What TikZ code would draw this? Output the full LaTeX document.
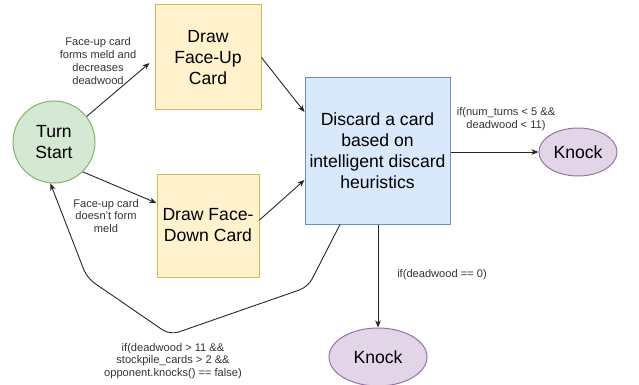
\documentclass[tikz,border=0pt]{standalone}
\usepackage{fontspec}
\setmainfont{Liberation Sans}
\usetikzlibrary{arrows.meta,shapes.geometric}
\definecolor{gfill}{HTML}{D5E8D4}\definecolor{gline}{HTML}{82B366}
\definecolor{yfill}{HTML}{FFF2CC}\definecolor{yline}{HTML}{D6B656}
\definecolor{bfill}{HTML}{DAE8FC}\definecolor{bline}{HTML}{6C8EBF}
\definecolor{pfill}{HTML}{E1D5E7}\definecolor{pline}{HTML}{9673A6}
\definecolor{lbl}{HTML}{333333}
\tikzset{
  big/.style={font=\fontsize{17.6}{21}\selectfont, align=center, inner sep=0pt},
  ybox/.style={big, draw=yline, fill=yfill, line width=1pt},
  lab/.style={font=\fontsize{11.1}{12.7}\selectfont, align=center, text=lbl, inner sep=0pt},
  conn/.style={draw=black!85, line width=0.9pt, -{Stealth[length=7pt,width=5.5pt,inset=2pt]}},
}
\begin{document}
\begin{tikzpicture}[x=1pt,y=-1pt]
\useasboundingbox (0,0) rectangle (639,385);
\node[big, circle, draw=gline, fill=gfill, line width=1pt, minimum size=82pt] (ts) at (54,142) {Turn\\Start};
\node[ybox, minimum width=106pt, minimum height=105pt] (fu) at (208,57.5) {Draw\\Face-Up\\Card};
\node[ybox, minimum width=102pt, minimum height=103pt] (fd) at (208,225.5) {Draw Face-\\Down Card};
\node[big, draw=bline, fill=bfill, line width=1pt, minimum width=145pt, minimum height=146pt] (dc) at (377.5,151) {Discard a card\\based on\\intelligent discard\\heuristics};
\node[big, ellipse, draw=pline, fill=pfill, line width=1pt, minimum width=78pt, minimum height=48pt] (k1) at (578,152) {Knock};
\node[big, ellipse, draw=pline, fill=pfill, line width=1pt, minimum width=98pt, minimum height=58pt] (k2) at (378,357) {Knock};

\node[lab] (l1) at (98,61) {Face-up card\\forms meld and\\decreases\\deadwood};
\node[lab] (l2) at (106,216) {Face-up card\\doesn't form\\meld};
\node[lab] (l3) at (506,119) {if(num\_turns < 5 \&\&\\deadwood < 11)};
\node[lab] (l4) at (442,275) {if(deadwood == 0)};
\node[lab] (l5) at (173,361) {if(deadwood > 11 \&\&\\stockpile\_cards > 2 \&\&\\opponent.knocks() == false)};

\draw[conn] (ts.38) -- ([shift={(-5,5.5)}]fu.west);
\draw[conn] (ts.-46) -- ([shift={(0,-22.5)}]fd.west);
\draw[conn] (fu.east) -- ([shift={(0,-39)}]dc.west);
\draw[conn] ([shift={(0,-5.5)}]fd.east) -- ([shift={(0,29)}]dc.west);
\draw[conn] (dc.east |- k1) -- (k1.west);
\draw[conn] (dc.south -| k2) -- (k2.north);
\draw[conn, rounded corners=9pt] ([shift={(-37.5,0)}]dc.south) -- (308,287) -- (170,335) -- (87,278) -- (ts.-95);
\end{tikzpicture}
\end{document}
